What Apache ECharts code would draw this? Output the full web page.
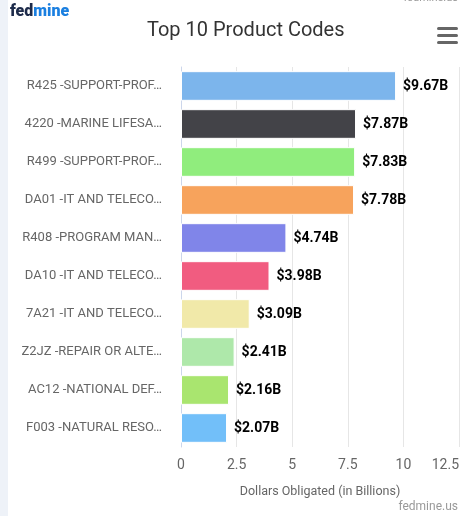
<!DOCTYPE html>
<html>
<head>
<meta charset="utf-8">
<script src="https://cdn.jsdelivr.net/npm/echarts@6/dist/echarts.min.js"></script>
<style>
html,body{margin:0;padding:0;background:#fff;}
#chart{width:462px;height:516px;}
</style>
</head>
<body>
<div id="chart"></div>
<script>
// top 10 product codes, dollars obligated in billions
var codes = ['R425 -SUPPORT-PROF…', '4220 -MARINE LIFESA…', 'R499 -SUPPORT-PROF…', 'DA01 -IT AND TELECO…',
    'R408 -PROGRAM MAN…', 'DA10 -IT AND TELECO…', '7A21 -IT AND TELECO…', 'Z2JZ -REPAIR OR ALTE…',
    'AC12 -NATIONAL DEF…', 'F003 -NATURAL RESO…'];
var amounts = [9.67, 7.87, 7.83, 7.78, 4.74, 3.98, 3.09, 2.41, 2.16, 2.07];
var barColors = ['#7cb5ec', '#434348', '#90ed7d', '#f7a35c', '#8085e9', '#f15c80', '#f1e9a9', '#aee8aa', '#a9e56f', '#72bff9'];
var xTicks = [0, 2.5, 5, 7.5, 10, 12.5];

var chart = echarts.init(document.getElementById('chart'));

var option = {
    animation: false,
    textStyle: { fontFamily: 'Roboto' },
    title: {
        text: 'Top 10 Product Codes',
        left: 142,
        top: 16,
        textStyle: { fontSize: 20, fontWeight: 'normal', color: '#333' }
    },
    graphic: [
        { type: 'rect', left: 0, top: 0, shape: { width: 8, height: 516 }, style: { fill: '#eef2f8' } },
        { type: 'text', left: 10, top: 4, style: {
            text: '{a|fed}{b|mine}',
            rich: {
                a: { fontSize: 16, fontWeight: 900, fill: '#1d2b4a', fontFamily: 'Roboto' },
                b: { fontSize: 16, fontWeight: 900, fill: '#1a7fe0', fontFamily: 'Roboto' }
            }
        } },
        { type: 'text', right: 4, top: -7, style: { text: 'fedmine.us', fontSize: 11, fill: '#999', fontFamily: 'Roboto' } },
        { type: 'rect', left: 437, top: 27, shape: { width: 21, height: 3, r: 1.5 }, style: { fill: '#666' } },
        { type: 'rect', left: 437, top: 34, shape: { width: 21, height: 3, r: 1.5 }, style: { fill: '#666' } },
        { type: 'rect', left: 437, top: 41, shape: { width: 21, height: 3, r: 1.5 }, style: { fill: '#666' } },
        { type: 'text', right: 4, top: 501, style: { text: 'fedmine.us', fontSize: 12, fill: '#999', fontFamily: 'Roboto' } }
    ],
    grid: { left: 181, right: 2, top: 67, bottom: 69 },
    xAxis: {
        type: 'value',
        min: xTicks[0],
        max: xTicks[xTicks.length - 1],
        interval: 2.5,
        name: 'Dollars Obligated (in Billions)',
        nameLocation: 'middle',
        nameGap: 38,
        nameTextStyle: { color: '#666', fontSize: 12.5 },
        axisLine: { show: false },
        axisTick: { show: false },
        axisLabel: { color: '#666', fontSize: 14, margin: 11, alignMaxLabel: 'right' },
        splitLine: { lineStyle: { color: '#e6e6e6', width: 1 } }
    },
    yAxis: {
        type: 'category',
        data: codes,
        inverse: true,
        axisLine: { lineStyle: { color: '#ccd6eb' } },
        axisTick: { length: 11, lineStyle: { color: '#ccd6eb' } },
        axisLabel: { color: '#666', fontSize: 13, margin: 19 }
    },
    series: [{
        type: 'bar',
        data: amounts.map(function (v, i) {
            return { value: v, itemStyle: { color: barColors[i] } };
        }),
        barCategoryGap: '22%',
        itemStyle: { borderColor: '#fff', borderWidth: 1 },
        label: {
            show: true,
            position: 'right',
            distance: 7,
            color: '#000',
            fontSize: 14,
            fontWeight: 'bold',
            formatter: function (p) { return '$' + p.value.toFixed(2) + 'B'; }
        }
    }]
};

chart.setOption(option);
</script>
</body>
</html>
